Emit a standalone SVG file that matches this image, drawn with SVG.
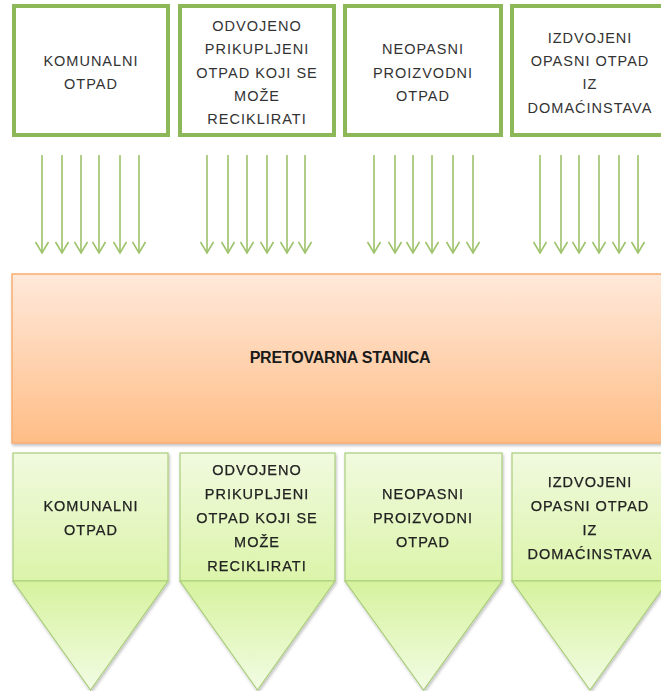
<svg xmlns="http://www.w3.org/2000/svg" width="661" height="691" viewBox="0 0 661 691">
  <defs>
    <linearGradient id="gOrange" x1="0" y1="0" x2="0" y2="1">
      <stop offset="0" stop-color="#FFE9DA"/>
      <stop offset="1" stop-color="#FFBD86"/>
    </linearGradient>
    <linearGradient id="gRect" x1="0" y1="0" x2="0" y2="1">
      <stop offset="0" stop-color="#F1FADF"/>
      <stop offset="1" stop-color="#DBF4A9"/>
    </linearGradient>
    <linearGradient id="gTri" x1="0" y1="0" x2="0" y2="1">
      <stop offset="0" stop-color="#D6F29D"/>
      <stop offset="1" stop-color="#F2FCE4"/>
    </linearGradient>
    <filter id="shadow" x="-10%" y="-10%" width="130%" height="130%">
      <feDropShadow dx="1" dy="2" stdDeviation="1.5" flood-color="#000" flood-opacity="0.25"/>
    </filter>
    <marker id="vhead" markerUnits="userSpaceOnUse" viewBox="0 0 14 14" markerWidth="14" markerHeight="14" refX="12" refY="7" orient="auto">
      <path d="M1,0.5 L12,7 L1,13.5" fill="none" stroke="#9DC26A" stroke-width="1.6"/>
    </marker>
  </defs>
  <style>
    .src { fill: #ffffff; stroke: #8CB85A; stroke-width: 4; }
    .t { font-family: "Liberation Sans", Arial, sans-serif; font-size: 14.5px; fill: #333333; text-anchor: middle; letter-spacing: 1px; }
    .tb { font-family: "Liberation Sans", Arial, sans-serif; font-size: 14.5px; fill: #222222; text-anchor: middle; letter-spacing: 1px; stroke: #222222; stroke-width: 0.25; }
    .hub { fill: url(#gOrange); stroke: #F8AE72; stroke-width: 1.5; }
    .hubt { font-family: "Liberation Sans", Arial, sans-serif; font-size: 16px; font-weight: bold; fill: #1a1a1a; text-anchor: middle; letter-spacing: -0.2px; }
    .crect { fill: url(#gRect); stroke: #A9CD7C; stroke-width: 1.2; }
    .ctri { fill: url(#gTri); stroke: #A9CD7C; stroke-width: 1.2; }
    .arr { stroke: #9DC26A; stroke-width: 1.6; fill: none; marker-end: url(#vhead); }
  </style>

  <!-- Top source boxes -->
  <g id="src-komunalni">
    <rect class="src" x="14" y="6" width="154" height="129"/>
    <text class="t" x="91" y="65.9">KOMUNALNI</text>
    <text class="t" x="91" y="89.2">OTPAD</text>
  </g>
  <g id="src-odvojeno">
    <rect class="src" x="180" y="6" width="154" height="129"/>
    <text class="t" x="257" y="30.9">ODVOJENO</text>
    <text class="t" x="257" y="54.2">PRIKUPLJENI</text>
    <text class="t" x="257" y="77.5">OTPAD KOJI SE</text>
    <text class="t" x="257" y="100.8">MOŽE</text>
    <text class="t" x="257" y="124.1">RECIKLIRATI</text>
  </g>
  <g id="src-neopasni">
    <rect class="src" x="345" y="6" width="156" height="129"/>
    <text class="t" x="423" y="54.2">NEOPASNI</text>
    <text class="t" x="423" y="77.5">PROIZVODNI</text>
    <text class="t" x="423" y="100.8">OTPAD</text>
  </g>
  <g id="src-izdvojeni">
    <rect class="src" x="512" y="6" width="156" height="129"/>
    <text class="t" x="590" y="42.6">IZDVOJENI</text>
    <text class="t" x="590" y="65.9">OPASNI OTPAD</text>
    <text class="t" x="590" y="89.2">IZ</text>
    <text class="t" x="590" y="112.5">DOMAĆINSTAVA</text>
  </g>

  <!-- Connectors -->
  <g id="connectors">
    <line class="arr" x1="42" y1="155" x2="42" y2="253"/>
    <line class="arr" x1="62" y1="155" x2="62" y2="253"/>
    <line class="arr" x1="81" y1="155" x2="81" y2="253"/>
    <line class="arr" x1="99" y1="155" x2="99" y2="253"/>
    <line class="arr" x1="120" y1="155" x2="120" y2="253"/>
    <line class="arr" x1="139" y1="155" x2="139" y2="253"/>

    <line class="arr" x1="207" y1="155" x2="207" y2="253"/>
    <line class="arr" x1="228" y1="155" x2="228" y2="253"/>
    <line class="arr" x1="247" y1="155" x2="247" y2="253"/>
    <line class="arr" x1="267" y1="155" x2="267" y2="253"/>
    <line class="arr" x1="287" y1="155" x2="287" y2="253"/>
    <line class="arr" x1="305" y1="155" x2="305" y2="253"/>

    <line class="arr" x1="374" y1="155" x2="374" y2="253"/>
    <line class="arr" x1="395" y1="155" x2="395" y2="253"/>
    <line class="arr" x1="413" y1="155" x2="413" y2="253"/>
    <line class="arr" x1="432" y1="155" x2="432" y2="253"/>
    <line class="arr" x1="453" y1="155" x2="453" y2="253"/>
    <line class="arr" x1="473" y1="155" x2="473" y2="253"/>

    <line class="arr" x1="540" y1="155" x2="540" y2="253"/>
    <line class="arr" x1="561" y1="155" x2="561" y2="253"/>
    <line class="arr" x1="579" y1="155" x2="579" y2="253"/>
    <line class="arr" x1="599" y1="155" x2="599" y2="253"/>
    <line class="arr" x1="619" y1="155" x2="619" y2="253"/>
    <line class="arr" x1="638" y1="155" x2="638" y2="253"/>
  </g>

  <!-- Hub -->
  <g id="hub-pretovarna">
    <rect class="hub" x="12" y="274" width="660" height="169" filter="url(#shadow)"/>
    <text class="hubt" x="340" y="363">PRETOVARNA STANICA</text>
  </g>

  <!-- Bottom output chevrons -->
  <g id="out-komunalni" filter="url(#shadow)">
    <rect class="crect" x="13" y="453" width="155" height="128"/>
    <path class="ctri" d="M13,581 L168,581 L90.5,690 Z"/>
    <text class="tb" x="91" y="511.2">KOMUNALNI</text>
    <text class="tb" x="91" y="535.3">OTPAD</text>
  </g>
  <g id="out-odvojeno" filter="url(#shadow)">
    <rect class="crect" x="180" y="453" width="155" height="128"/>
    <path class="ctri" d="M180,581 L335,581 L257.5,690 Z"/>
    <text class="tb" x="257" y="475">ODVOJENO</text>
    <text class="tb" x="257" y="499.1">PRIKUPLJENI</text>
    <text class="tb" x="257" y="523.2">OTPAD KOJI SE</text>
    <text class="tb" x="257" y="547.3">MOŽE</text>
    <text class="tb" x="257" y="571.4">RECIKLIRATI</text>
  </g>
  <g id="out-neopasni" filter="url(#shadow)">
    <rect class="crect" x="345" y="453" width="157" height="128"/>
    <path class="ctri" d="M345,581 L502,581 L423.5,690 Z"/>
    <text class="tb" x="423" y="499.1">NEOPASNI</text>
    <text class="tb" x="423" y="523.2">PROIZVODNI</text>
    <text class="tb" x="423" y="547.3">OTPAD</text>
  </g>
  <g id="out-izdvojeni" filter="url(#shadow)">
    <rect class="crect" x="512" y="453" width="156" height="128"/>
    <path class="ctri" d="M512,581 L668,581 L590,690 Z"/>
    <text class="tb" x="590" y="487.1">IZDVOJENI</text>
    <text class="tb" x="590" y="511.2">OPASNI OTPAD</text>
    <text class="tb" x="590" y="535.3">IZ</text>
    <text class="tb" x="590" y="559.4">DOMAĆINSTAVA</text>
  </g>
</svg>
